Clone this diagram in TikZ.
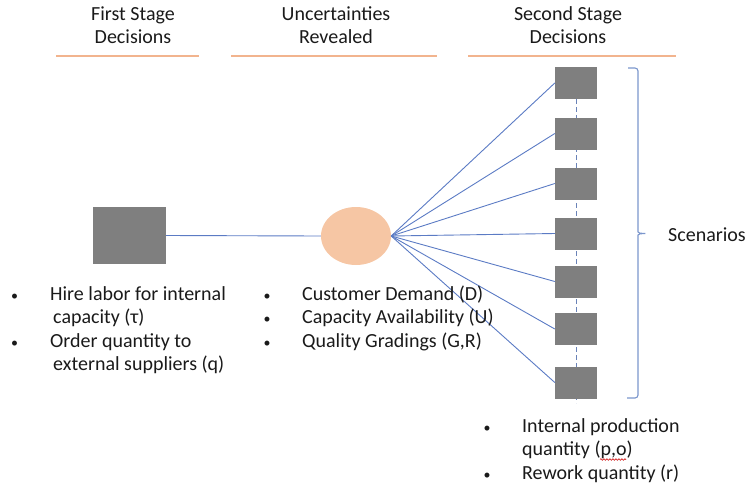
\documentclass[tikz,border=0pt]{standalone}
\usepackage{fontspec}
\setmainfont{Carlito}
\usetikzlibrary{shapes.geometric,decorations.pathmorphing,backgrounds}
\definecolor{boxgray}{HTML}{7F7F7F}
\definecolor{peach}{HTML}{F6C6A4}
\definecolor{rulepeach}{HTML}{F2B48E}
\definecolor{linkblue}{HTML}{5B7BC4}
\definecolor{bracketblue}{HTML}{7B96CC}
\definecolor{dashblue}{HTML}{6A83B8}
\definecolor{ink}{HTML}{1A1A1A}
\begin{document}
\begin{tikzpicture}[x=1pt,y=-1pt,
  txt/.style={font=\fontsize{20}{24}\selectfont, text=ink, inner sep=0pt, anchor=base west},
  head/.style={txt, anchor=base},
  bul/.style={font=\fontsize{14}{14}\selectfont, text=ink, inner sep=0pt, anchor=base},
  headrule/.style={draw=rulepeach, line width=1.5pt},
  graybox/.style={fill=boxgray, inner sep=0pt, minimum width=42pt, minimum height=32pt},
  link/.style={draw=linkblue, line width=0.9pt},
]
\useasboundingbox (0,0) rectangle (749,490);

% column headings
\node[head] (h1a) at (133,20) {First Stage};
\node[head] (h1b) at (133,43) {Decisions};
\node[head] (h2a) at (336,20) {Uncertainties};
\node[head] (h2b) at (336,43) {Revealed};
\node[head] (h3a) at (568,20) {Second Stage};
\node[head] (h3b) at (568,43) {Decisions};

\coordinate (r1l) at (56,56);  \coordinate (r1r) at (199,56);
\coordinate (r2l) at (231,56); \coordinate (r2r) at (437,56);
\coordinate (r3l) at (468,56); \coordinate (r3r) at (676,56);
\draw[headrule] (r1l) -- (r1r);
\draw[headrule] (r2l) -- (r2r);
\draw[headrule] (r3l) -- (r3r);

% first-stage decision and uncertainty node
\node[fill=boxgray, inner sep=0pt, minimum width=73pt, minimum height=57pt] (first) at (129.5,235.5) {};
\node[ellipse, fill=peach, inner sep=0pt, minimum width=70pt, minimum height=58pt] (unc) at (356,236) {};
\draw[link] (first.east) -- (unc.west);

% second-stage decisions (one per scenario)
\foreach \i/\y in {1/83, 2/133.5, 3/183.5, 4/233.5, 5/281.5, 6/329, 7/382.5} {
  \node[graybox] (s\i) at (576,\y) {};
  \draw[link] (unc.east) -- (s\i.west);
}
\coordinate (dashend) at (576,403);
\begin{scope}[on background layer]
  \draw[dashblue, line width=1pt, dash pattern=on 5pt off 3pt] (s1.center) -- (dashend);
\end{scope}

% scenario bracket
\coordinate (btop) at (628,68);
\coordinate (bbot) at (627,398);
\draw[bracketblue, line width=1.1pt, rounded corners=3pt]
  (btop) -- (638,68) -- (638,229)
  .. controls (638,233) and (641,233.5) .. (647,233.5)
  .. controls (641,233.5) and (638,234) .. (638,238)
  -- (638,398) -- (bbot);
\node[txt] (scen) at (668,241) {Scenarios};

% first-stage list
\node[bul] (b11) at (14.5,300) {•};
\node[bul] (b12) at (14.5,347) {•};
\node[txt] (t11) at (50,300) {Hire labor for internal};
\node[txt] (t12) at (53,323.5) {capacity (τ)};
\node[txt] (t13) at (50,347) {Order quantity to};
\node[txt] (t14) at (53,370.5) {external suppliers (q)};

% uncertainty list
\node[bul] (b21) at (267,300) {•};
\node[bul] (b22) at (267,323.5) {•};
\node[bul] (b23) at (267,347) {•};
\node[txt] (t21) at (302,300) {Customer Demand (D)};
\node[txt] (t22) at (302,323.5) {Capacity Availability (U)};
\node[txt] (t23) at (302,347) {Quality Gradings (G,R)};

% second-stage list
\node[bul] (b31) at (487,432) {•};
\node[bul] (b32) at (487,479) {•};
\node[txt] (t31) at (522,432) {Internal production};
\node[txt] (t32) at (522,455.5) {quantity (p,o)};
\node[txt] (t33) at (522,479) {Rework quantity (r)};
\coordinate (sqa) at (600,459.5);
\coordinate (sqb) at (626,459.5);
\draw[red!80!black, line width=0.6pt, decorate, decoration={snake, amplitude=0.8pt, segment length=3pt}] (sqa) -- (sqb);
\end{tikzpicture}
\end{document}
